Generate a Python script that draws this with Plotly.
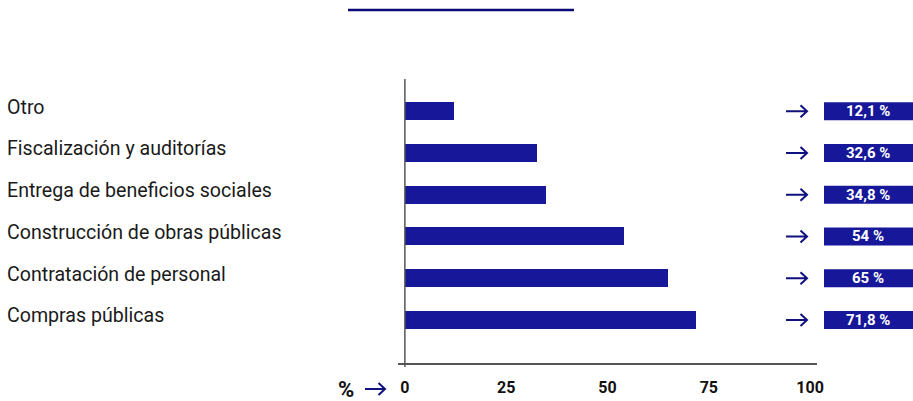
import plotly.graph_objects as go

categories = ["Compras públicas", "Contratación de personal", "Construcción de obras públicas",
              "Entrega de beneficios sociales", "Fiscalización y auditorías", "Otro"]
values = [71.8, 65, 54, 34.8, 32.6, 12.1]
value_labels = ["71,8 %", "65 %", "54 %", "34,8 %", "32,6 %", "12,1 %"]
x_ticks = [0, 25, 50, 75, 100]

BAR = "#17179A"
NAVY = "#10107E"
W, H = 913, 401
L, R = 398, 817
T, B = 79, 363
pw, ph = R - L, B - T
YR = (-1.03, 5.77)

def px(xpix):
    return (xpix - L) / pw

def py(ypix):
    return (B - ypix) / ph

fig = go.Figure()
fig.add_trace(go.Bar(
    x=values, y=list(range(len(categories))), orientation="h",
    marker=dict(color=BAR, line=dict(width=0)), width=0.43, hoverinfo="skip",
))

annotations = []
shapes = []

def arrow(xl, xr, yref, yc, dy):
    hx = xr - 6.5
    return dict(type="path", xref="paper", yref=yref,
                path=(f"M {px(xl)},{yc} L {px(xr)},{yc} "
                      f"M {px(hx)},{yc + dy} L {px(xr)},{yc} L {px(hx)},{yc - dy}"),
                line=dict(color=NAVY, width=2))

unit_px = ph / (YR[1] - YR[0])
for i, (cat, lab) in enumerate(zip(categories, value_labels)):
    annotations.append(dict(x=px(5), y=i, xref="paper", yref="y", text=cat, showarrow=False,
                            xanchor="left", yanchor="middle", yshift=4,
                            font=dict(family="Roboto", size=19.6, color="#1a1a1a")))
    shapes.append(arrow(786, 807, "y", i, 6 / unit_px))
    shapes.append(dict(type="rect", xref="paper", yref="y", x0=px(824), x1=px(913),
                       y0=i - 0.215, y1=i + 0.215, fillcolor=BAR, line=dict(width=0), layer="above"))
    annotations.append(dict(x=px(868), y=i, xref="paper", yref="y", text="<b>" + lab + "</b>",
                            showarrow=False, xanchor="center", yanchor="middle",
                            font=dict(family="Roboto", size=15, color="white")))

annotations.append(dict(x=px(346), y=py(389), xref="paper", yref="paper", text="<b>%</b>",
                        showarrow=False, xanchor="center", yanchor="middle",
                        font=dict(family="Roboto", size=22, color="#111111")))
shapes.append(arrow(365, 385, "paper", py(389), 6 / ph))

# vertical axis line
shapes.append(dict(type="line", xref="x", yref="paper", x0=0, x1=0, y0=py(367), y1=py(79),
                   line=dict(color="#555555", width=1.5)))
# title underline
shapes.append(dict(type="line", xref="paper", yref="paper", x0=px(348), x1=px(574),
                   y0=py(10), y1=py(10), line=dict(color="#0B0B78", width=2.5)))

fig.update_layout(
    width=W, height=H, margin=dict(l=L, r=W - R, t=T, b=H - B, autoexpand=False),
    paper_bgcolor="white", plot_bgcolor="white", showlegend=False,
    bargap=0, annotations=annotations, shapes=shapes,
    xaxis=dict(range=[-1.7, 101.7], tickvals=x_ticks, ticktext=[f"<b>{v}</b>" for v in x_ticks],
               showgrid=False, zeroline=False, showline=True, linecolor="#555555", linewidth=1.5,
               ticks="", ticklabelstandoff=9, automargin=False,
               tickfont=dict(family="Roboto", size=16, color="#111111"), fixedrange=True),
    yaxis=dict(range=list(YR), showticklabels=False, showgrid=False, zeroline=False,
               showline=False, ticks="", automargin=False, fixedrange=True),
)
fig.write_html("out.html", config={"displayModeBar": False},
               post_script="document.body.style.margin='0';document.body.style.overflow='hidden';")
